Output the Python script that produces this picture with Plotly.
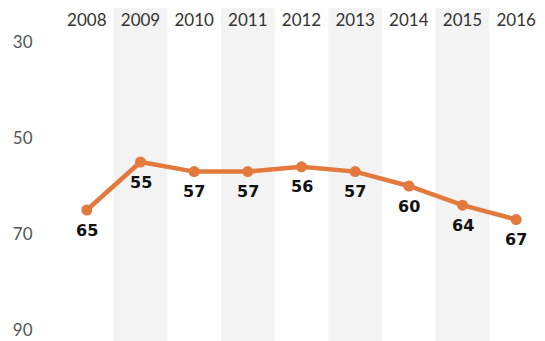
import plotly.graph_objects as go

# data
years = ["2008", "2009", "2010", "2011", "2012", "2013", "2014", "2015", "2016"]
values = [65, 55, 57, 57, 56, 57, 60, 64, 67]
shaded_years = ["2009", "2011", "2013", "2015"]
y_ticks = [30, 50, 70, 90]

line_color = "#E4793D"

fig = go.Figure()

fig.add_trace(go.Scatter(
    x=years, y=values,
    mode="lines+markers",
    line=dict(color=line_color, width=4.5),
    marker=dict(color=line_color, size=11),
    cliponaxis=False,
    hoverinfo="skip",
))

# value labels under each point (category index used for x)
for i, v in enumerate(values):
    fig.add_annotation(x=i, y=v, xref="x", yref="y", text=str(v),
                       showarrow=False, yshift=-20,
                       font=dict(family="DejaVu Sans", size=16, color="#111111", weight="bold"))

# alternating grey column bands
for yr in shaded_years:
    i = years.index(yr)
    fig.add_shape(type="rect", xref="x", yref="paper",
                  x0=i - 0.5, x1=i + 0.5, y0=-0.1, y1=1.125,
                  fillcolor="#F3F3F3", line_width=0, layer="below")

# page body has an 8px margin, so the figure is a bit smaller than the window
fig.update_layout(
    width=537, height=333,
    margin=dict(l=52, r=2, t=34, b=11),
    plot_bgcolor="white", paper_bgcolor="white",
    showlegend=False,
    font=dict(family="Lato", size=16, color="#444444"),
)
fig.update_xaxes(
    type="category", categoryorder="array", categoryarray=years,
    range=[-0.5, 8.5], side="top", automargin=False,
    showgrid=False, zeroline=False, showline=False,
    ticks="outside", ticklen=8, tickcolor="rgba(0,0,0,0)",
    tickfont=dict(size=17, color="#333333"),
)
fig.update_yaxes(
    range=[90, 30], tickvals=y_ticks, automargin=False,
    showgrid=False, zeroline=False, showline=False,
    ticks="outside", ticklen=23, tickcolor="rgba(0,0,0,0)",
    tickfont=dict(size=17, color="#555555"),
)

fig.write_html("out.html")
